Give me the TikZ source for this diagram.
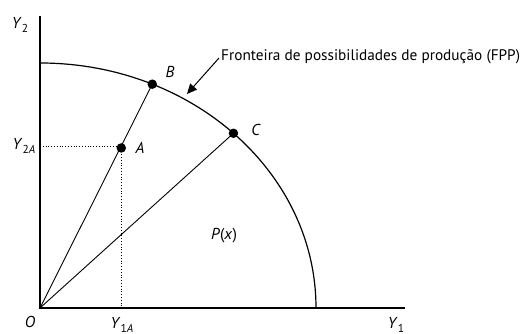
\documentclass[tikz,border=0pt]{standalone}
\usepackage{fontspec}
\setmainfont{PT Sans}
\usetikzlibrary{calc,arrows.meta}
\newcommand{\vlab}[2]{\textit{#1}\raisebox{-0.45ex}{\fontsize{11.5}{11.5}\selectfont #2}}
\begin{document}
\begin{tikzpicture}[x=1pt,y=1pt,
  lbl/.style={inner sep=0pt,font=\fontsize{15.8}{18}\selectfont},
  dot/.style={circle,fill=black,inner sep=0pt,minimum size=9.5pt},
  axis/.style={line width=1.4pt},
  ray/.style={line width=0.9pt},
  guide/.style={line width=0.8pt,dotted}]
\useasboundingbox (0,0) rectangle (525,334);
\coordinate (O) at (40,26);
\coordinate (ytop) at (40,318);
\coordinate (xend) at (405,26);
\coordinate (Pb) at ($(O)+({276*cos(66)},{245*sin(66)})$);
\coordinate (Pc) at ($(O)+({276*cos(45.5)},{245*sin(45.5)})$);
\coordinate (Pa) at ($(O)!0.724!(Pb)$);
\coordinate (ya) at (O|-Pa);
\coordinate (xa) at (Pa|-O);
\draw[axis] (ytop) -- (O) -- (xend);
\draw[line width=1.2pt] (40,271) arc[start angle=90,end angle=0,x radius=276,y radius=245];
\draw[ray] (O) -- (Pb);
\draw[ray] (O) -- (Pc);
\draw[guide] (ya) -- (Pa) -- (xa);
\node[dot] (B) at (Pb) {};
\node[dot] (C) at (Pc) {};
\node[dot] (A) at ($(Pa)+(0,-2)$) {};
\node[lbl] (lB) at (170,262) {\textit{B}};
\node[lbl] (lA) at (140,186) {\textit{A}};
\node[lbl] (lC) at (256,204) {\textit{C}};
\node[lbl] (lP) at (224,98) {\textit{P}(\textit{x})};
\node[lbl] (lO) at (30,12) {\textit{O}};
\node[lbl] (lY2) at (20,309) {\vlab{Y}{2}};
\node[lbl] (lY2A) at (24,188) {\vlab{Y}{2\textit{A}}};
\node[lbl] (lY1A) at (122,9) {\vlab{Y}{1\textit{A}}};
\node[lbl] (lY1) at (396,9) {\vlab{Y}{1}};
\node[inner sep=0pt,font=\fontsize{15.3}{18}\selectfont,anchor=base west] (fpp) at (221,273) {Fronteira de possibilidades de produção (FPP)};
\coordinate (tail) at (219,276);
\coordinate (tip) at (187,240);
\draw[line width=1pt,-{Triangle[length=10pt,width=9pt]}] (tail) -- (tip);
\end{tikzpicture}
\end{document}
